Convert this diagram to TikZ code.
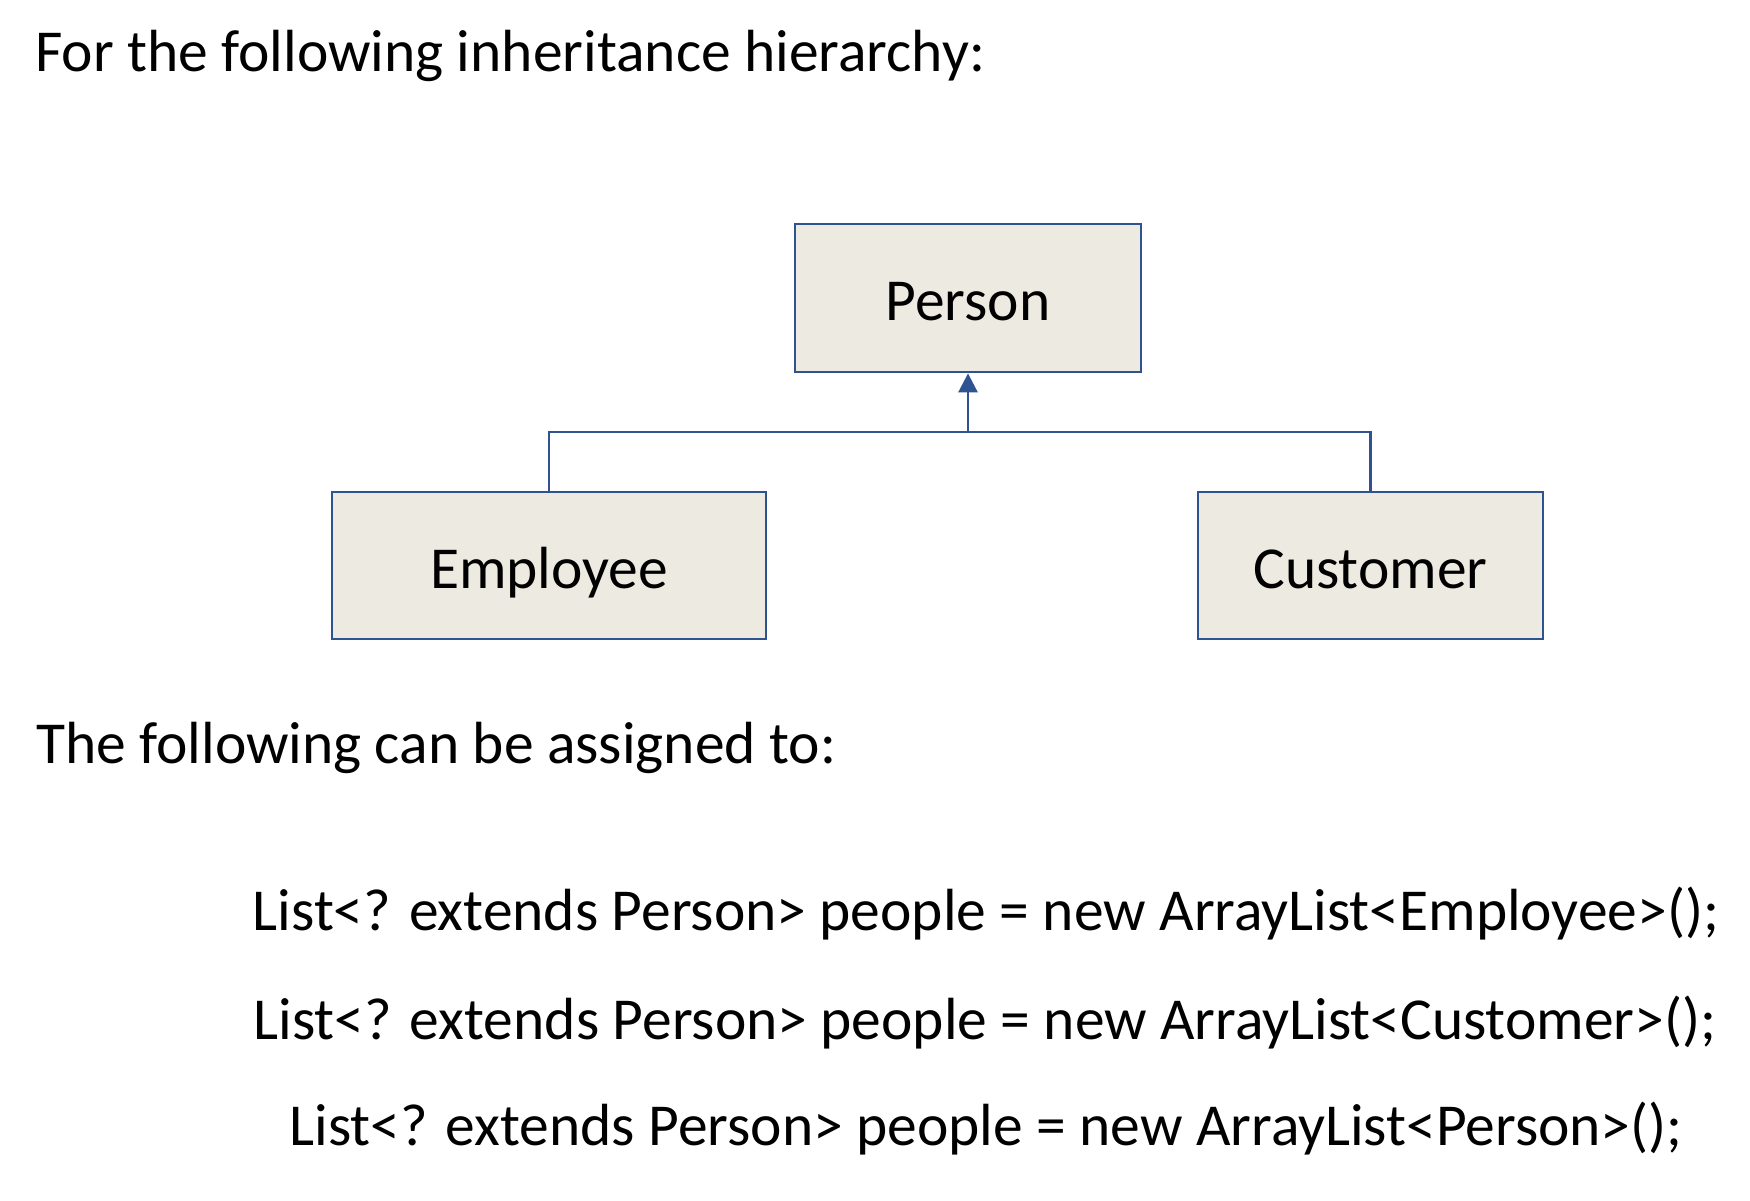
\documentclass[tikz,border=0pt]{standalone}
\usepackage{fontspec}
\setmainfont{Carlito}
\usetikzlibrary{arrows.meta}
\definecolor{boxfill}{HTML}{EDEAE2}
\definecolor{boxline}{HTML}{2F5290}
\tikzset{
  classbox/.style={draw=boxline, fill=boxfill, line width=2.8pt, inner sep=0pt, minimum height=147pt, text height=45pt, text depth=0pt, font=\fontsize{59.5}{70}\selectfont},
  conn/.style={draw=boxline, line width=2.8pt},
  txt/.style={inner sep=0pt, font=\fontsize{59.5}{70}\selectfont}
}
\begin{document}
\begin{tikzpicture}[x=1pt,y=-1pt]
\useasboundingbox (0,0) rectangle (1750,1200);
\fill[white] (0,0) rectangle (1750,1200);
\node[txt, anchor=base west] (title) at (35,71) {For the following inheritance hierarchy:};
\node[classbox, minimum width=346pt, minimum height=148pt] (person) at (968,298) {Person};
\node[classbox, minimum width=434pt] (emp) at (549,565.5) {Employee};
\node[classbox, minimum width=345pt] (cust) at (1370.5,565.5) {Customer};
\coordinate (j) at (968,432);
\draw[conn] (emp.north) |- (j) -| (cust.north);
\draw[conn, -{Triangle[width=19pt,length=19pt]}] (j) -- (person.south);
\node[txt, anchor=base west] (sub) at (36,763) {The following can be assigned to:};
\node[txt, anchor=base] (l1) at (986,930) {List<? extends Person> people = new ArrayList<Employee>();};
\node[txt, anchor=base] (l2) at (985,1039) {List<? extends Person> people = new ArrayList<Customer>();};
\node[txt, anchor=base] (l3) at (986,1145) {List<? extends Person> people = new ArrayList<Person>();};
\end{tikzpicture}
\end{document}
